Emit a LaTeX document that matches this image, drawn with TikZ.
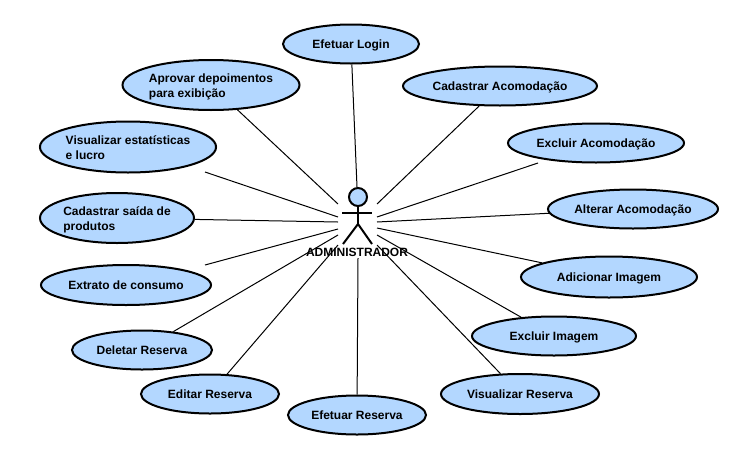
\documentclass[tikz,border=0pt]{standalone}
\usepackage{fontspec}
\setmainfont{Liberation Sans}
\usetikzlibrary{shapes.geometric}
\definecolor{ucfill}{HTML}{B3D7FF}
\tikzset{
  usecase/.style={ellipse,draw=black,line width=1.5pt,fill=ucfill,inner sep=0pt,text=black,font=\fontsize{9pt}{11.25pt}\selectfont\bfseries},
  assoc/.style={draw=black,line width=0.75pt},
  actorline/.style={draw=black,line width=1.5pt},
  actorlabel/.style={font=\fontsize{9pt}{11pt}\selectfont\bfseries,inner sep=0pt}
}
\newcommand{\uc}[6]{\node[usecase,minimum width=#4*1.5pt,minimum height=#5*0.75pt] (#1) at (#2,#3) {\raisebox{-1.5pt}[\height][\depth]{\begin{tabular}{@{}l@{}}#6\end{tabular}}};}
\renewcommand{\arraystretch}{0.96}
\begin{document}
\begin{tikzpicture}[x=0.75pt,y=-0.75pt]
\useasboundingbox (0,0) rectangle (731,457);
% actor ports
\coordinate (p1) at (357,187);
\coordinate (p2) at (338,204);
\coordinate (p3) at (377,204);
\coordinate (p4) at (338,217);
\coordinate (p5) at (377,217);
\coordinate (p6) at (338,222);
\coordinate (p7) at (377,222);
\coordinate (p8) at (338,229);
\coordinate (p9) at (377,228);
\coordinate (p10) at (377,235);
\coordinate (p11) at (338,235);
\coordinate (p12) at (338,245);
\coordinate (p13) at (358,258);
\coordinate (p14) at (377,245);
% free ends that stop short of their use cases
\coordinate (s4) at (205,172);
\coordinate (s5) at (538,163);
\coordinate (s8) at (205,265);
% use cases
\uc{login}{351}{44}{68}{39}{Efetuar Login}
\uc{aprovar}{211}{85}{88.5}{50}{Aprovar depoimentos\\para exibição}
\uc{cadacom}{500}{86}{97}{39}{Cadastrar Acomodação}
\uc{estat}{128}{147}{88}{51}{Visualizar estatísticas\\e lucro}
\uc{excacom}{596}{143}{88}{39}{Excluir Acomodação}
\uc{saida}{117}{218}{77}{50}{Cadastrar saída de\\produtos}
\uc{altacom}{633}{209}{85}{39}{Alterar Acomodação}
\uc{extrato}{126}{285}{85}{40}{Extrato de consumo}
\uc{adimg}{609}{277}{88}{41}{Adicionar Imagem}
\uc{eximg}{554}{336}{82}{39}{Excluir Imagem}
\uc{delres}{142}{350}{70}{39}{Deletar Reserva}
\uc{edres}{210}{394}{69}{39}{Editar Reserva}
\uc{efres}{357}{415}{69}{39}{Efetuar Reserva}
\uc{visres}{520}{394}{79}{40}{Visualizar Reserva}
% associations
\draw[assoc] (login) -- (p1);
\draw[assoc] (aprovar) -- (p2);
\draw[assoc] (cadacom) -- (p3);
\draw[assoc] (s4) -- (p4);
\draw[assoc] (s5) -- (p5);
\draw[assoc] (saida) -- (p6);
\draw[assoc] (altacom) -- (p7);
\draw[assoc] (s8) -- (p8);
\draw[assoc] (adimg) -- (p9);
\draw[assoc] (eximg) -- (p10);
\draw[assoc] (delres) -- (p11);
\draw[assoc] (edres) -- (p12);
\draw[assoc] (efres) -- (p13);
\draw[assoc] (visres) -- (p14);
% actor
\node[circle,draw=black,line width=1.5pt,fill=ucfill,minimum size=13.5pt,inner sep=0pt] (head) at (358,197) {};
\coordinate (armL) at (342,213);
\coordinate (armR) at (372,213);
\coordinate (hip) at (358,224);
\coordinate (footL) at (343,244);
\coordinate (footR) at (372,244);
\draw[actorline] (head.south) -- (hip);
\draw[actorline] (armL) -- (armR);
\draw[actorline] (footL) -- (hip) -- (footR);
\node[actorlabel] (actorname) at (357,252) {ADMINISTRADOR};
\end{tikzpicture}
\end{document}
